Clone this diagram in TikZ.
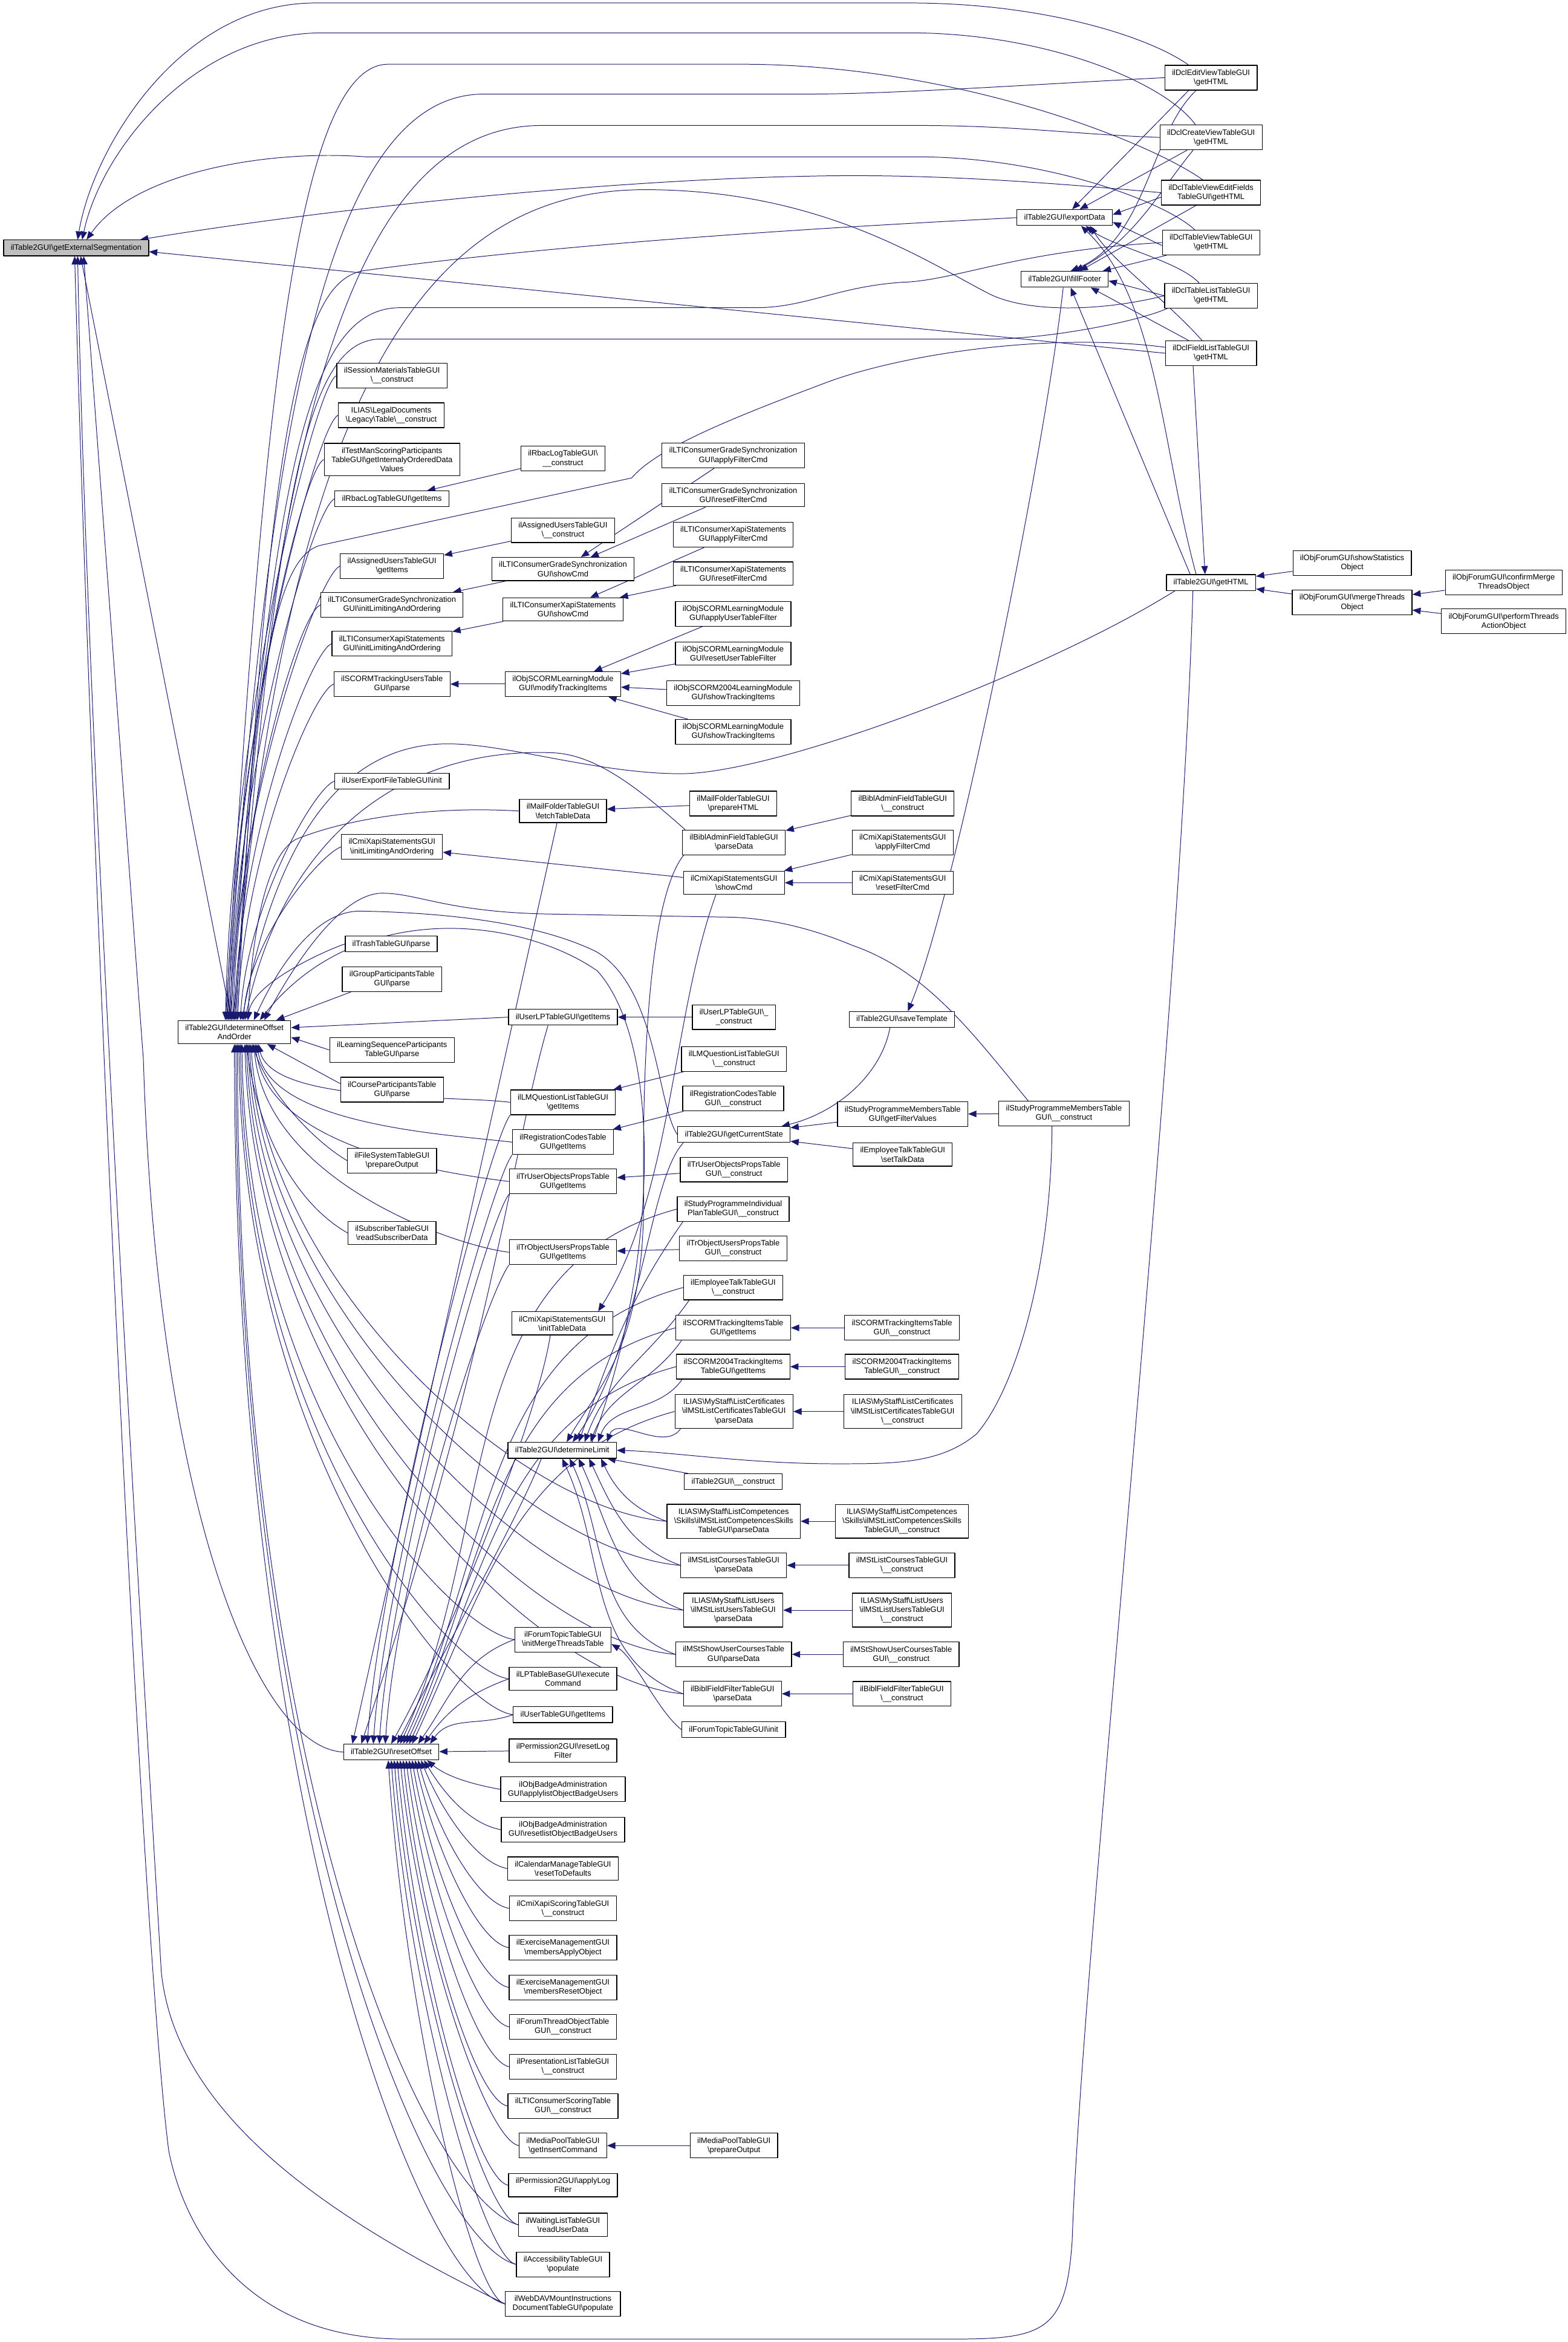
\documentclass[tikz,border=0pt]{standalone}
\usepackage{fontspec}
\setmainfont{Liberation Sans}
\usetikzlibrary{arrows.meta}
\pgfdeclarelayer{back}
\pgfsetlayers{back,main}
\newcommand{\bk}{\textbackslash}
\begin{document}
\begin{tikzpicture}[x=1pt, y=1pt, line cap=round, line join=round,
  fn/.style={draw=black, fill=white, line width=0.5pt, align=center,
    font=\fontsize{5.25}{6.1}\selectfont, inner xsep=4.8pt, inner ysep=2.8pt},
  fnline/.style={fn, text height=3.9pt, text depth=1.1pt},
  root/.style={fnline, fill=gray!50},
  call/.style={draw=edgeblue, line width=0.4pt, -{Triangle[length=5.5pt,width=4.4pt]}}]
  \definecolor{edgeblue}{RGB}{25,25,112}
  \useasboundingbox (0,0) rectangle (1050,-1568);

  \node[root] (getExt) at (51,-166) {ilTable2GUI\bk getExternalSegmentation};
  \node[fn] (detOff) at (157,-691) {ilTable2GUI\bk determineOffset\\AndOrder};
  \node[fnline] (resetOff) at (262,-1173) {ilTable2GUI\bk resetOffset};

  \node[fn] (sessMat) at (262.5,-251.5) {ilSessionMaterialsTableGUI\\\bk\_\_construct};
  \node[fn] (legalDocs) at (262,-278) {ILIAS\bk LegalDocuments\\\bk Legacy\bk Table\bk\_\_construct};
  \node[fn] (testMan) at (262.5,-307.7) {ilTestManScoringParticipants\\TableGUI\bk getInternalyOrderedData\\Values};
  \node[fnline] (rbacItems) at (262.5,-334) {ilRbacLogTableGUI\bk getItems};
  \node[fn] (assignedItems) at (262.5,-379) {ilAssignedUsersTableGUI\\\bk getItems};
  \node[fn] (ltiGradeInit) at (262.5,-405) {ilLTIConsumerGradeSynchronization\\GUI\bk initLimitingAndOrdering};
  \node[fn] (ltiXapiInit) at (262.5,-431) {ilLTIConsumerXapiStatements\\GUI\bk initLimitingAndOrdering};
  \node[fn] (scormUsersParse) at (262.5,-458) {ilSCORMTrackingUsersTable\\GUI\bk parse};
  \node[fnline] (userExport) at (262.5,-523) {ilUserExportFileTableGUI\bk init};
  \node[fn] (cmiInitLim) at (262.5,-567) {ilCmiXapiStatementsGUI\\\bk initLimitingAndOrdering};
  \node[fnline] (trashParse) at (262,-632) {ilTrashTableGUI\bk parse};
  \node[fn] (groupParse) at (262.5,-655.6) {ilGroupParticipantsTable\\GUI\bk parse};
  \node[fn] (lsoParse) at (262.5,-703) {ilLearningSequenceParticipants\\TableGUI\bk parse};
  \node[fn] (courseParse) at (262.5,-729.5) {ilCourseParticipantsTable\\GUI\bk parse};
  \node[fn] (fileSystem) at (262.5,-777) {ilFileSystemTableGUI\\\bk prepareOutput};
  \node[fn] (subscriber) at (262.5,-825.5) {ilSubscriberTableGUI\\\bk readSubscriberData};

  \node[fn] (rbacConstr) at (377,-307) {ilRbacLogTableGUI\bk\\\_\_construct};
  \node[fn] (assignedConstr) at (377,-355) {ilAssignedUsersTableGUI\\\bk\_\_construct};
  \node[fn] (ltiGradeShow) at (377,-381) {ilLTIConsumerGradeSynchronization\\GUI\bk showCmd};
  \node[fn] (ltiXapiShow) at (377,-408) {ilLTIConsumerXapiStatements\\GUI\bk showCmd};
  \node[fn] (scormModify) at (377,-458) {ilObjSCORMLearningModule\\GUI\bk modifyTrackingItems};
  \node[fn] (mailFetch) at (377,-543) {ilMailFolderTableGUI\\\bk fetchTableData};
  \node[fnline] (userLPItems) at (377,-681) {ilUserLPTableGUI\bk getItems};
  \node[fn] (lmQuestItems) at (377,-738) {ilLMQuestionListTableGUI\\\bk getItems};
  \node[fn] (regCodesItems) at (377,-764.7) {ilRegistrationCodesTable\\GUI\bk getItems};
  \node[fn] (trUserObjItems) at (377,-791) {ilTrUserObjectsPropsTable\\GUI\bk getItems};
  \node[fn] (trObjUsersItems) at (377,-838.4) {ilTrObjectUsersPropsTable\\GUI\bk getItems};
  \node[fn] (cmiInitTable) at (376.5,-886) {ilCmiXapiStatementsGUI\\\bk initTableData};
  \node[fnline] (detLimit) at (376.5,-971) {ilTable2GUI\bk determineLimit};
  \node[fn] (forumMergeTable) at (377,-1097.7) {ilForumTopicTableGUI\\\bk initMergeThreadsTable};
  \node[fn] (lpExecute) at (377,-1124) {ilLPTableBaseGUI\bk execute\\Command};
  \node[fnline] (userTableItems) at (377,-1148) {ilUserTableGUI\bk getItems};
  \node[fn] (permReset) at (377,-1172) {ilPermission2GUI\bk resetLog\\Filter};
  \node[fn] (badgeApply) at (377,-1198) {ilObjBadgeAdministration\\GUI\bk applylistObjectBadgeUsers};
  \node[fn] (badgeReset) at (377,-1225) {ilObjBadgeAdministration\\GUI\bk resetlistObjectBadgeUsers};
  \node[fn] (calReset) at (377,-1251) {ilCalendarManageTableGUI\\\bk resetToDefaults};
  \node[fn] (cmiScoring) at (377,-1277.7) {ilCmiXapiScoringTableGUI\\\bk\_\_construct};
  \node[fn] (excApply) at (377,-1304) {ilExerciseManagementGUI\\\bk membersApplyObject};
  \node[fn] (excReset) at (377,-1330.6) {ilExerciseManagementGUI\\\bk membersResetObject};
  \node[fn] (forumThread) at (377,-1357) {ilForumThreadObjectTable\\GUI\bk\_\_construct};
  \node[fn] (presList) at (377,-1383.7) {ilPresentationListTableGUI\\\bk\_\_construct};
  \node[fn] (ltiScoring) at (377,-1410) {ilLTIConsumerScoringTable\\GUI\bk\_\_construct};
  \node[fn] (mepInsert) at (377,-1436.5) {ilMediaPoolTableGUI\\\bk getInsertCommand};
  \node[fn] (permApply) at (377,-1463) {ilPermission2GUI\bk applyLog\\Filter};
  \node[fn] (waitingList) at (377,-1489.5) {ilWaitingListTableGUI\\\bk readUserData};
  \node[fn] (accessibility) at (377,-1516) {ilAccessibilityTableGUI\\\bk populate};
  \node[fn] (webdav) at (377,-1542.5) {ilWebDAVMountInstructions\\DocumentTableGUI\bk populate};

  \node[fn] (ltiGradeApply) at (491,-305) {ilLTIConsumerGradeSynchronization\\GUI\bk applyFilterCmd};
  \node[fn] (ltiGradeReset) at (491,-331.5) {ilLTIConsumerGradeSynchronization\\GUI\bk resetFilterCmd};
  \node[fn] (ltiXapiApply) at (491,-358) {ilLTIConsumerXapiStatements\\GUI\bk applyFilterCmd};
  \node[fn] (ltiXapiReset) at (491,-384) {ilLTIConsumerXapiStatements\\GUI\bk resetFilterCmd};
  \node[fn] (scormApplyUser) at (491,-411) {ilObjSCORMLearningModule\\GUI\bk applyUserTableFilter};
  \node[fn] (scormResetUser) at (491,-437.5) {ilObjSCORMLearningModule\\GUI\bk resetUserTableFilter};
  \node[fn] (scorm2004Show) at (491,-464) {ilObjSCORM2004LearningModule\\GUI\bk showTrackingItems};
  \node[fn] (scormShow) at (491,-490) {ilObjSCORMLearningModule\\GUI\bk showTrackingItems};
  \node[fn] (mailPrepare) at (491,-538) {ilMailFolderTableGUI\\\bk prepareHTML};
  \node[fn] (biblAdminParse) at (491.5,-564) {ilBiblAdminFieldTableGUI\\\bk parseData};
  \node[fn] (cmiShow) at (491.5,-591) {ilCmiXapiStatementsGUI\\\bk showCmd};
  \node[fn] (userLPConstr) at (491.5,-681) {ilUserLPTableGUI\bk\_\\\_construct};
  \node[fn] (lmQuestConstr) at (491.5,-709) {ilLMQuestionListTableGUI\\\bk\_\_construct};
  \node[fn] (regCodesConstr) at (491,-735.5) {ilRegistrationCodesTable\\GUI\bk\_\_construct};
  \node[fnline] (curState) at (491.5,-759.6) {ilTable2GUI\bk getCurrentState};
  \node[fn] (trUserObjConstr) at (491.5,-783) {ilTrUserObjectsPropsTable\\GUI\bk\_\_construct};
  \node[fn] (prgIndividual) at (491,-809.5) {ilStudyProgrammeIndividual\\PlanTableGUI\bk\_\_construct};
  \node[fn] (trObjUsersConstr) at (491,-835.7) {ilTrObjectUsersPropsTable\\GUI\bk\_\_construct};
  \node[fn] (talkConstr) at (491,-862) {ilEmployeeTalkTableGUI\\\bk\_\_construct};
  \node[fn] (scormItems) at (491,-889) {ilSCORMTrackingItemsTable\\GUI\bk getItems};
  \node[fn] (scorm2004Items) at (491,-915) {ilSCORM2004TrackingItems\\TableGUI\bk getItems};
  \node[fn] (certParse) at (491.5,-945) {ILIAS\bk MyStaff\bk ListCertificates\\\bk ilMStListCertificatesTableGUI\\\bk parseData};
  \node[fnline] (tableConstr) at (491,-992) {ilTable2GUI\bk\_\_construct};
  \node[fn] (compParse) at (491.3,-1018.5) {ILIAS\bk MyStaff\bk ListCompetences\\\bk Skills\bk ilMStListCompetencesSkills\\TableGUI\bk parseData};
  \node[fn] (coursesParse) at (491.3,-1048) {ilMStListCoursesTableGUI\\\bk parseData};
  \node[fn] (usersParse) at (491,-1078) {ILIAS\bk MyStaff\bk ListUsers\\\bk ilMStListUsersTableGUI\\\bk parseData};
  \node[fn] (showUserParse) at (491.3,-1107.6) {ilMStShowUserCoursesTable\\GUI\bk parseData};
  \node[fn] (biblFilterParse) at (490.5,-1134) {ilBiblFieldFilterTableGUI\\\bk parseData};
  \node[fnline] (forumInit) at (491.3,-1158) {ilForumTopicTableGUI\bk init};
  \node[fn] (mepPrepare) at (491.5,-1436.5) {ilMediaPoolTableGUI\\\bk prepareOutput};

  \node[fn] (biblAdminConstr) at (604.5,-538) {ilBiblAdminFieldTableGUI\\\bk\_\_construct};
  \node[fn] (cmiApply) at (604.5,-564) {ilCmiXapiStatementsGUI\\\bk applyFilterCmd};
  \node[fn] (cmiReset) at (604.5,-591) {ilCmiXapiStatementsGUI\\\bk resetFilterCmd};
  \node[fnline] (saveTpl) at (604,-682.5) {ilTable2GUI\bk saveTemplate};
  \node[fn] (prgFilter) at (604.5,-746) {ilStudyProgrammeMembersTable\\GUI\bk getFilterValues};
  \node[fn] (talkSet) at (604.5,-773) {ilEmployeeTalkTableGUI\\\bk setTalkData};
  \node[fn] (scormItemsConstr) at (604,-889) {ilSCORMTrackingItemsTable\\GUI\bk\_\_construct};
  \node[fn] (scorm2004Constr) at (604,-915) {ilSCORM2004TrackingItems\\TableGUI\bk\_\_construct};
  \node[fn] (certConstr) at (604.5,-945) {ILIAS\bk MyStaff\bk ListCertificates\\\bk ilMStListCertificatesTableGUI\\\bk\_\_construct};
  \node[fn] (compConstr) at (604,-1018.5) {ILIAS\bk MyStaff\bk ListCompetences\\\bk Skills\bk ilMStListCompetencesSkills\\TableGUI\bk\_\_construct};
  \node[fn] (coursesConstr) at (604,-1048) {ilMStListCoursesTableGUI\\\bk\_\_construct};
  \node[fn] (usersConstr) at (604,-1078) {ILIAS\bk MyStaff\bk ListUsers\\\bk ilMStListUsersTableGUI\\\bk\_\_construct};
  \node[fn] (showUserConstr) at (603.5,-1107.6) {ilMStShowUserCoursesTable\\GUI\bk\_\_construct};
  \node[fn] (biblFilterConstr) at (604,-1134) {ilBiblFieldFilterTableGUI\\\bk\_\_construct};

  \node[fnline] (exportData) at (713,-145.7) {ilTable2GUI\bk exportData};
  \node[fnline] (fillFooter) at (713,-187) {ilTable2GUI\bk fillFooter};
  \node[fn] (prgConstr) at (712.5,-745.5) {ilStudyProgrammeMembersTable\\GUI\bk\_\_construct};

  \node[fn] (dclEdit) at (811,-52) {ilDclEditViewTableGUI\\\bk getHTML};
  \node[fn] (dclCreate) at (811,-92) {ilDclCreateViewTableGUI\\\bk getHTML};
  \node[fn] (dclEditFields) at (811,-129) {ilDclTableViewEditFields\\TableGUI\bk getHTML};
  \node[fn] (dclTableView) at (811,-162.4) {ilDclTableViewTableGUI\\\bk getHTML};
  \node[fn] (dclTableList) at (811,-198) {ilDclTableListTableGUI\\\bk getHTML};
  \node[fn] (dclFieldList) at (811,-236.5) {ilDclFieldListTableGUI\\\bk getHTML};
  \node[fnline] (getHTML) at (811,-390) {ilTable2GUI\bk getHTML};

  \node[fn] (forumStats) at (905.5,-377) {ilObjForumGUI\bk showStatistics\\Object};
  \node[fn] (forumMerge) at (905.5,-403.4) {ilObjForumGUI\bk mergeThreads\\Object};
  \node[fn] (forumConfirm) at (1007,-390) {ilObjForumGUI\bk confirmMerge\\ThreadsObject};
  \node[fn] (forumPerform) at (1007,-416) {ilObjForumGUI\bk performThreads\\ActionObject};

  \begin{pgfonlayer}{back}
  % into getExternalSegmentation
  \draw[call] ([xshift=-2pt]detOff.north) -- ([xshift=3pt]getExt.south);
  \draw[call] (resetOff.west) .. controls (170,-1170) and (105,-1000) .. (96,-709) -- ([xshift=5pt]getExt.south);
  \draw[call] (webdav.west) .. controls (230,-1490) and (118,-1420) .. (108,-1320) .. controls (95,-1100) and (58,-500) .. ([xshift=1pt]getExt.south);
  \draw[call] ([xshift=18pt]getHTML.south west) .. controls (790,-700) and (725,-1300) .. (718,-1500) .. controls (714,-1560) and (700,-1566) .. (640,-1566) -- (270,-1566) .. controls (170,-1566) and (125,-1500) .. (113,-1440) .. controls (95,-1300) and (62,-600) .. ([xshift=-1pt]getExt.south);
  \draw[call] ([xshift=16pt]dclEdit.north west) .. controls (770,-25) and (700,-2) .. (609,-2) -- (211,-2) .. controls (120,-2) and (62,-100) .. ([xshift=1pt]getExt.north);
  \draw[call] ([xshift=24pt]dclCreate.north west) .. controls (780,-55) and (700,-22) .. (609,-22) -- (216,-22) .. controls (130,-22) and (68,-100) .. ([xshift=4pt]getExt.north);
  \draw[call] ([xshift=22pt]dclTableView.north west) .. controls (780,-135) and (700,-105) .. (614,-105) -- (245,-105) .. controls (180,-100) and (90,-115) .. ([xshift=7pt]getExt.north);
  \draw[call] (dclEditFields.west) .. controls (700,-122) and (620,-116) .. (540,-118) .. controls (430,-120) and (250,-135) .. ([xshift=-6pt]getExt.north east);
  \draw[call] (dclFieldList.west) -- ([yshift=-2.5pt]getExt.east);

  % into determineOffsetAndOrder from above
  \draw[call] (dclEdit.west) .. controls (700,-56) and (600,-63) .. (540,-63) -- (324,-63) .. controls (215,-63) and (178,-300) .. ([xshift=-5pt]detOff.north);
  \draw[call] (dclCreate.west) .. controls (720,-90) and (680,-84) .. (614,-84) -- (363,-84) .. controls (225,-84) and (182,-320) .. ([xshift=-4pt]detOff.north);
  \draw[call] ([xshift=28pt]dclEditFields.north west) .. controls (770,-95) and (640,-43) .. (496,-43) -- (260,-43) .. controls (195,-43) and (175,-300) .. ([xshift=-6pt]detOff.north);
  \draw[call] (dclTableView.west) .. controls (680,-168) and (640,-188) .. (604,-189) .. controls (560,-192) and (540,-206) .. (506,-206) -- (268,-206) .. controls (205,-206) and (182,-320) .. ([xshift=-3pt]detOff.north);
  \draw[call] (dclTableList.west) .. controls (740,-208) and (690,-210) .. (663,-197) .. controls (620,-175) and (550,-127) .. (432,-127) .. controls (290,-127) and (192,-250) .. ([xshift=-1pt]detOff.north);
  \draw[call] ([xshift=2pt]dclTableList.south west) .. controls (760,-216) and (700,-227) .. (663,-227) -- (255,-227) .. controls (205,-227) and (185,-330) .. (detOff.north);
  \draw[call] ([yshift=4pt]dclFieldList.west) .. controls (700,-222) and (600,-238) .. (551,-257) .. controls (490,-280) and (440,-300) .. (423,-320) -- (215,-365) .. controls (185,-372) and (170,-450) .. ([xshift=1pt]detOff.north);
  \draw[call] (exportData.west) .. controls (600,-150) and (400,-160) .. (245,-181) .. controls (205,-186) and (180,-260) .. ([xshift=2pt]detOff.north);
  \draw[call] ([xshift=6pt]getHTML.south west) .. controls (700,-450) and (520,-518) .. (456,-518) .. controls (400,-518) and (340,-498) .. (300,-498) .. controls (230,-498) and (185,-560) .. ([xshift=5pt]detOff.north);
  \draw[call] ([xshift=2pt]biblAdminParse.north west) .. controls (430,-530) and (400,-505) .. (370,-504) .. controls (270,-500) and (190,-560) .. ([xshift=7pt]detOff.north);
  \draw[call] (mailFetch.west) .. controls (300,-540) and (240,-545) .. (198,-562) .. controls (175,-575) and (168,-640) .. ([xshift=9pt]detOff.north);
  \draw[call] (curState.west) .. controls (440,-740) and (440,-660) .. (399,-637) .. controls (360,-618) and (300,-611) .. (241,-610) .. controls (210,-610) and (185,-650) .. ([xshift=13pt]detOff.north);
  \draw[call] ([xshift=20pt]detLimit.north) .. controls (440,-850) and (445,-700) .. (400,-650) .. controls (350,-615) and (240,-600) .. ([xshift=17pt]detOff.north);
  \draw[call] ([xshift=-24pt]prgConstr.north) .. controls (650,-690) and (620,-650) .. (571,-633) .. controls (540,-620) and (510,-614) .. (485,-614) -- (370,-612) .. controls (300,-611) and (280,-598) .. (256,-598) .. controls (230,-598) and (200,-640) .. ([xshift=20pt]detOff.north);
  \foreach \n/\dx/\c in {sessMat/-6/200, legalDocs/-5/190, testMan/-4/180, rbacItems/-3/170, assignedItems/-2/150, ltiGradeInit/-1/140, ltiXapiInit/0/125, scormUsersParse/2/110, userExport/4/75, cmiInitLim/6/55}
    \draw[call] (\n.west) .. controls +(-14,-5) and +(4,\c) .. ([xshift=\dx pt]detOff.north);
  \draw[call] (trashParse.west) .. controls +(-12,-4) and +(3,25) .. ([xshift=9pt]detOff.north);
  \draw[call] ([xshift=6pt]groupParse.south west) -- ([xshift=28pt]detOff.north);
  \draw[call] (lsoParse.west) -- ([yshift=-3.5pt]detOff.east);
  \draw[call] (userLPItems.west) -- ([yshift=3pt]detOff.east);

  % into determineOffsetAndOrder from below
  \draw[call] ([yshift=4pt]courseParse.west) -- ([xshift=-16pt]detOff.south east);
  \draw[call] (fileSystem.west) .. controls +(-25,15) and +(10,-30) .. ([xshift=12pt]detOff.south);
  \draw[call] (subscriber.west) .. controls +(-35,20) and +(8,-60) .. ([xshift=8pt]detOff.south);
  \foreach \n/\dx/\c in {lmQuestItems/16/40, regCodesItems/15/55, trUserObjItems/14/70, trObjUsersItems/13/90, forumMergeTable/5/250, lpExecute/4/260, userTableItems/3/270}
    \draw[call] (\n.west) .. controls +(-40,5) and +(\dx*0.6,-\c) .. ([xshift=\dx pt]detOff.south);
  \foreach \n/\dx/\c in {compParse/11/160, coursesParse/10/180, usersParse/9/200, showUserParse/8/220, biblFilterParse/7/240}
    \draw[call] (\n.west) .. controls +(-100,8) and +(\dx,-\c) .. ([xshift=\dx pt]detOff.south);
  \foreach \n/\dx in {waitingList/2, accessibility/1, webdav/0}
    \draw[call] (\n.west) .. controls +(-60,15) and +(0,-500) .. ([xshift=\dx pt]detOff.south);

  % into resetOffset
  \draw[call] ([xshift=-4pt]mailFetch.south) -- ([xshift=-26pt]resetOff.north);
  \draw[call] ([xshift=-10pt]userLPItems.south) .. controls (345,-760) and (330,-900) .. ([xshift=-20pt]resetOff.north);
  \foreach \n/\dx in {lmQuestItems/-16, regCodesItems/-12, trUserObjItems/-8, trObjUsersItems/-4}
    \draw[call] (\n.south west) .. controls +(-15,-20) and +(8,120) .. ([xshift=\dx pt]resetOff.north);
  \draw[call] ([xshift=-8pt]cmiInitTable.south) .. controls (360,-950) and (300,-1100) .. ([xshift=0pt]resetOff.north);
  \draw[call] ([xshift=-14pt]detLimit.south) .. controls (350,-1010) and (300,-1100) .. ([xshift=4pt]resetOff.north);
  \foreach \n/\dx in {prgIndividual/6, talkConstr/8, scormItems/10, scorm2004Items/12, certParse/14}
    \draw[call] (\n.west) to[out=195,in=65] ([xshift=\dx pt]resetOff.north);
  \foreach \n/\dx in {forumMergeTable/18, lpExecute/22, userTableItems/26}
    \draw[call] (\n.west) to[out=200,in=55] ([xshift=\dx pt]resetOff.north);
  \draw[call] (permReset) -- (resetOff);
  \foreach \n/\dx/\c in {badgeApply/24/10, badgeReset/22/20, calReset/20/30, cmiScoring/18/45, excApply/16/55, excReset/14/70, forumThread/12/80, presList/10/95, ltiScoring/8/110, mepInsert/6/120, permApply/4/135, waitingList/2/150, accessibility/0/160, webdav/-2/175}
    \draw[call] (\n.west) .. controls +(-22,4) and +(12,-\c) .. ([xshift=\dx pt]resetOff.south);

  % into determineLimit
  \draw[call] ([xshift=1pt]biblAdminParse.south west) .. controls (436,-600) and (430,-700) .. (431,-800) .. controls (432,-900) and (400,-930) .. ([xshift=3pt]detLimit.north);
  \draw[call] ([xshift=4pt]curState.south west) .. controls (434,-790) and (430,-900) .. ([xshift=7pt]detLimit.north);
  \foreach \n/\dx in {prgIndividual/11, talkConstr/15, scormItems/19, scorm2004Items/24, certParse/30}
    \draw[call] ([xshift=4pt]\n.south west) to[out=235,in=70] ([xshift=\dx pt]detLimit.north);
  \draw[call] (tableConstr) -- (detLimit);
  \foreach \n/\dx in {compParse/26, coursesParse/18, usersParse/11, showUserParse/5, biblFilterParse/0}
    \draw[call] (\n.west) to[out=160,in=-65] ([xshift=\dx pt]detLimit.south);
  \draw[call] ([xshift=-8pt]prgConstr.south) .. controls (704,-850) and (680,-930) .. (654,-960) .. controls (630,-980) and (600,-980) .. (560,-980) .. controls (500,-980) and (450,-972) .. (detLimit.east);

  % chains
  \draw[call] (rbacConstr) -- (rbacItems);
  \draw[call] (assignedConstr) -- (assignedItems);
  \draw[call] (ltiGradeShow) -- (ltiGradeInit);
  \draw[call] (ltiGradeApply) -- (ltiGradeShow);
  \draw[call] (ltiGradeReset) -- (ltiGradeShow);
  \draw[call] (ltiXapiShow) -- (ltiXapiInit);
  \draw[call] (ltiXapiApply) -- (ltiXapiShow);
  \draw[call] (ltiXapiReset) -- (ltiXapiShow);
  \draw[call] (scormModify) -- (scormUsersParse);
  \foreach \n in {scormApplyUser, scormResetUser, scorm2004Show, scormShow}
    \draw[call] (\n) -- (scormModify);
  \draw[call] (mailPrepare) -- (mailFetch);
  \draw[call] (biblAdminConstr) -- (biblAdminParse);
  \draw[call] (cmiShow) -- (cmiInitLim);
  \draw[call] (cmiApply) -- (cmiShow);
  \draw[call] (cmiReset) -- (cmiShow);
  \draw[call] ([xshift=22pt]cmiShow.south west) .. controls (450,-680) and (450,-800) .. ([xshift=-10pt]cmiInitTable.north east);
  \draw[call] (userLPConstr) -- (userLPItems);
  \draw[call] (lmQuestConstr) -- (lmQuestItems);
  \draw[call] (regCodesConstr) -- (regCodesItems);
  \draw[call] (trUserObjConstr) -- (trUserObjItems);
  \draw[call] (trObjUsersConstr) -- (trObjUsersItems);
  \draw[call] (scormItemsConstr) -- (scormItems);
  \draw[call] (scorm2004Constr) -- (scorm2004Items);
  \draw[call] (certConstr) -- (certParse);
  \draw[call] (compConstr) -- (compParse);
  \draw[call] (coursesConstr) -- (coursesParse);
  \draw[call] (usersConstr) -- (usersParse);
  \draw[call] (showUserConstr) -- (showUserParse);
  \draw[call] (biblFilterConstr) -- (biblFilterParse);
  \draw[call] (forumInit.west) .. controls (440,-1145) and (425,-1110) .. ([yshift=-3pt]forumMergeTable.east);
  \draw[call] (mepPrepare) -- (mepInsert);
  \draw[call] (prgConstr) -- (prgFilter);
  \draw[call] (prgFilter) -- (curState);
  \draw[call] (talkSet) -- (curState);
  \draw[call] ([xshift=-8pt]saveTpl.south) .. controls (590,-720) and (560,-745) .. ([xshift=-6pt]curState.north east);
  \draw[call] ([xshift=-1pt]fillFooter.south) .. controls (700,-300) and (640,-600) .. ([xshift=4pt]saveTpl.north);

  % table GUIs of the data collection
  \draw[call] ([xshift=-15pt]dclEdit.south) -- ([xshift=5pt]exportData.north);
  \draw[call] ([xshift=-16pt]dclCreate.south) -- ([xshift=10pt]exportData.north);
  \draw[call] ([yshift=-3pt]dclEditFields.west) -- ([yshift=2pt]exportData.east);
  \draw[call] ([yshift=-2pt]dclTableView.west) -- ([yshift=-3pt]exportData.east);
  \draw[call] ([xshift=-8pt]dclTableList.north) .. controls (790,-175) and (745,-165) .. ([xshift=14pt]exportData.south);
  \draw[call] ([xshift=-6pt]dclFieldList.north) .. controls (780,-200) and (745,-175) .. ([xshift=17pt]exportData.south);
  \draw[call] ([xshift=-10pt]getHTML.north) .. controls (778,-300) and (775,-200) .. ([xshift=11pt]exportData.south);
  \draw[call] ([xshift=-10pt]dclEdit.south) .. controls (770,-90) and (768,-160) .. ([xshift=4pt]fillFooter.north);
  \draw[call] ([xshift=-12pt]dclCreate.south) .. controls (775,-130) and (760,-160) .. ([xshift=7pt]fillFooter.north);
  \draw[call] ([xshift=-10pt]dclEditFields.south) -- ([xshift=10pt]fillFooter.north);
  \draw[call] ([xshift=3pt]dclTableView.south west) -- ([xshift=-4pt]fillFooter.north east);
  \draw[call] (dclTableList.west) -- ([yshift=-1pt]fillFooter.east);
  \draw[call] ([xshift=-15pt]dclFieldList.north) -- ([xshift=-12pt]fillFooter.south east);
  \draw[call] ([xshift=-14pt]getHTML.north) -- ([xshift=4pt]fillFooter.south);
  \draw[call] ([xshift=-12pt]dclFieldList.south) -- ([xshift=-4pt]getHTML.north);

  % forum
  \draw[call] (forumStats) -- (getHTML);
  \draw[call] (forumMerge) -- (getHTML);
  \draw[call] (forumConfirm) -- (forumMerge);
  \draw[call] (forumPerform) -- (forumMerge);
  \end{pgfonlayer}
\end{tikzpicture}
\end{document}
